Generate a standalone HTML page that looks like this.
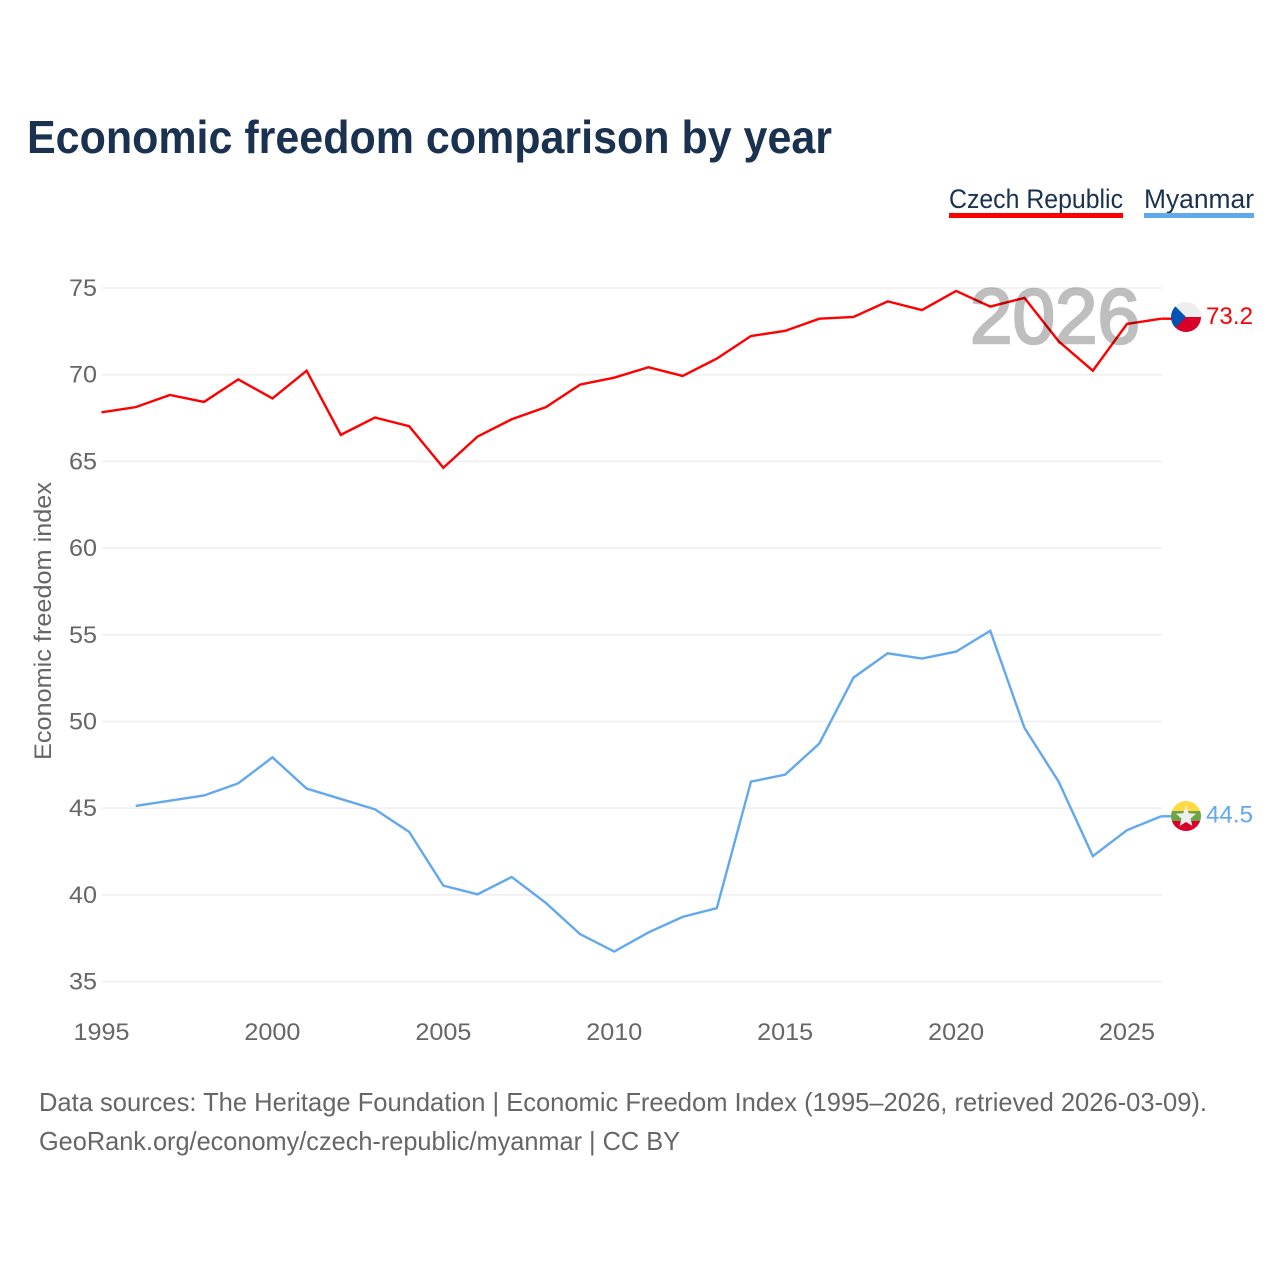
<!DOCTYPE html>
<html lang="en">
<head>
<meta charset="utf-8">
<title>Economic freedom comparison by year</title>
<style>
html,body{margin:0;padding:0;background:#fff;}
svg{display:block;}
text{font-family:"Liberation Sans",sans-serif;}
</style>
</head>
<body>
<svg id="chart" xmlns="http://www.w3.org/2000/svg" width="1280" height="1280" viewBox="0 0 1280 1280">
  <defs>
    <clipPath id="clip-cz"><circle cx="1186" cy="317" r="15"/></clipPath>
    <clipPath id="clip-mm"><circle cx="1186" cy="816" r="15"/></clipPath>
  </defs>
  <text x="27" y="153" font-size="46" font-weight="700" fill="#1a3150" textLength="805" lengthAdjust="spacingAndGlyphs">Economic freedom comparison by year</text>

  <g>
    <text x="949" y="208" font-size="26.5" fill="#1a3150" textLength="174" lengthAdjust="spacingAndGlyphs">Czech Republic</text>
    <rect x="949" y="213" width="174" height="5" fill="#ff0000"/>
  </g>
  <g>
    <text x="1144" y="208" font-size="26.5" fill="#1a3150" textLength="110" lengthAdjust="spacingAndGlyphs">Myanmar</text>
    <rect x="1144" y="213" width="110" height="5" fill="#62a8ee"/>
  </g>

  <text transform="translate(51,760) rotate(-90)" font-size="24" fill="#666666" textLength="278" lengthAdjust="spacingAndGlyphs">Economic freedom index</text>

  <g id="grid"></g>
  <g id="yticks"></g>
  <g id="xticks"></g>
  <g id="series"></g>

  <text x="1055" y="343" text-anchor="middle" font-size="78" font-weight="400" fill="#000000" stroke="#000000" stroke-width="2.5" opacity="0.25" textLength="170" lengthAdjust="spacingAndGlyphs">2026</text>

  <g clip-path="url(#clip-cz)">
    <rect x="1171" y="302" width="30" height="15" fill="#eeeeee"/>
    <rect x="1171" y="317" width="30" height="15" fill="#d80027"/>
    <polygon points="1171,302 1186,317 1171,332" fill="#0052b4"/>
  </g>
  <g clip-path="url(#clip-mm)">
    <rect x="1171" y="801" width="30" height="10" fill="#ffda44"/>
    <rect x="1171" y="811" width="30" height="10" fill="#6da544"/>
    <rect x="1171" y="821" width="30" height="10" fill="#d80027"/>
    <polygon points="1186,806 1188.8,813.2 1196,813.8 1190.5,818.6 1192.4,826 1186,822 1179.6,826 1181.5,818.6 1176,813.8 1183.2,813.2" fill="#eeeeee"/>
  </g>
  <text id="value-cz" x="1206" y="324" font-size="24.5" fill="#ff0000" textLength="47" lengthAdjust="spacingAndGlyphs">73.2</text>
  <text id="value-mm" x="1206" y="822.5" font-size="24.5" fill="#62a8ee" textLength="47" lengthAdjust="spacingAndGlyphs">44.5</text>

  <text x="39" y="1111" font-size="26" fill="#666666" textLength="1168" lengthAdjust="spacingAndGlyphs">Data sources: The Heritage Foundation | Economic Freedom Index (1995–2026, retrieved 2026-03-09).</text>
  <text x="39" y="1150" font-size="26" fill="#666666" textLength="641" lengthAdjust="spacingAndGlyphs">GeoRank.org/economy/czech-republic/myanmar | CC BY</text>
</svg>
<script>
var years = [1995,1996,1997,1998,1999,2000,2001,2002,2003,2004,2005,2006,2007,2008,2009,2010,2011,2012,2013,2014,2015,2016,2017,2018,2019,2020,2021,2022,2023,2024,2025,2026];
var czechValues = [67.8,68.1,68.8,68.4,69.7,68.6,70.2,66.5,67.5,67.0,64.6,66.4,67.4,68.1,69.4,69.8,70.4,69.9,70.9,72.2,72.5,73.2,73.3,74.2,73.7,74.8,73.9,74.4,71.9,70.2,72.9,73.2];
var myanmarValues = [null,45.1,45.4,45.7,46.4,47.9,46.1,45.5,44.9,43.6,40.5,40.0,41.0,39.5,37.7,36.7,37.8,38.7,39.2,46.5,46.9,48.7,52.5,53.9,53.6,54.0,55.2,49.6,46.5,42.2,43.7,44.5];
var yTickValues = [35,40,45,50,55,60,65,70,75];
var xTickValues = [1995,2000,2005,2010,2015,2020,2025];

var NS = 'http://www.w3.org/2000/svg';
function xScale(year){ return 101.5 + (year - 1995) * (1127 - 101.5) / 30; }
function yScale(value){ return 981 - (value - 35) * (981 - 287.5) / 40; }

var grid = document.getElementById('grid');
var yticks = document.getElementById('yticks');
var xticks = document.getElementById('xticks');
var seriesGroup = document.getElementById('series');

yTickValues.forEach(function(v){
  var line = document.createElementNS(NS, 'line');
  
  
  line.setAttribute('x1', 102);
  line.setAttribute('x2', 1162);
  line.setAttribute('y1', yScale(v) + 0.5);
  line.setAttribute('y2', yScale(v) + 0.5);
  line.setAttribute('stroke', '#eeeeee');
  line.setAttribute('stroke-width', 1.5);
  grid.appendChild(line);

  var label = document.createElementNS(NS, 'text');
  
  
  label.setAttribute('x', 97);
  label.setAttribute('y', yScale(v) + 8.5);
  label.setAttribute('text-anchor', 'end');
  label.setAttribute('font-size', 24.5);
  label.setAttribute('fill', '#666666');
  label.setAttribute('textLength', 28);
  label.setAttribute('lengthAdjust', 'spacingAndGlyphs');
  label.textContent = v;
  yticks.appendChild(label);
});

xTickValues.forEach(function(y){
  var label = document.createElementNS(NS, 'text');
  
  
  label.setAttribute('x', xScale(y));
  label.setAttribute('y', 1040);
  label.setAttribute('text-anchor', 'middle');
  label.setAttribute('font-size', 24.5);
  label.setAttribute('fill', '#666666');
  label.setAttribute('textLength', 56);
  label.setAttribute('lengthAdjust', 'spacingAndGlyphs');
  label.textContent = y;
  xticks.appendChild(label);
});

function linePoints(values){
  var pts = [];
  values.forEach(function(v, i){
    if (v !== null) pts.push(xScale(years[i]).toFixed(2) + ',' + yScale(v).toFixed(2));
  });
  return pts.join(' ');
}

var czechLine = document.createElementNS(NS, 'polyline');


czechLine.setAttribute('points', linePoints(czechValues));
czechLine.setAttribute('fill', 'none');
czechLine.setAttribute('stroke', '#ff0000');
czechLine.setAttribute('stroke-width', 2.4);
seriesGroup.appendChild(czechLine);

var myanmarLine = document.createElementNS(NS, 'polyline');


myanmarLine.setAttribute('points', linePoints(myanmarValues));
myanmarLine.setAttribute('fill', 'none');
myanmarLine.setAttribute('stroke', '#62a8ee');
myanmarLine.setAttribute('stroke-width', 2.4);
seriesGroup.appendChild(myanmarLine);

var czechLast = czechValues[czechValues.length - 1];
var czechConnector = document.createElementNS(NS, 'line');


czechConnector.setAttribute('x1', xScale(2026));
czechConnector.setAttribute('x2', 1172);
czechConnector.setAttribute('y1', yScale(czechLast));
czechConnector.setAttribute('y2', yScale(czechLast));
czechConnector.setAttribute('stroke', '#ff0000');
czechConnector.setAttribute('stroke-width', 2.4);
seriesGroup.appendChild(czechConnector);

var myanmarLast = myanmarValues[myanmarValues.length - 1];
var myanmarConnector = document.createElementNS(NS, 'line');


myanmarConnector.setAttribute('x1', xScale(2026));
myanmarConnector.setAttribute('x2', 1172);
myanmarConnector.setAttribute('y1', yScale(myanmarLast));
myanmarConnector.setAttribute('y2', yScale(myanmarLast));
myanmarConnector.setAttribute('stroke', '#62a8ee');
myanmarConnector.setAttribute('stroke-width', 2.4);
seriesGroup.appendChild(myanmarConnector);

document.getElementById('value-cz').textContent = czechLast.toFixed(1);
document.getElementById('value-mm').textContent = myanmarLast.toFixed(1);
</script>
</body>
</html>
